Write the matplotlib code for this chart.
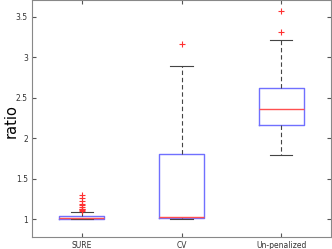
import numpy as np
import matplotlib
matplotlib.use("Agg")
import matplotlib.pyplot as plt

methods = ["SURE", "CV", "Un-penalized"]
q1 = [1.00, 1.01, 2.17]
med = [1.02, 1.03, 2.36]
q3 = [1.04, 1.80, 2.62]
wlo = [1.00, 1.00, 1.79]
whi = [1.09, 2.89, 3.22]
fliers = [
    [1.10, 1.11, 1.12, 1.13, 1.15, 1.17, 1.19, 1.22, 1.26, 1.30],
    [3.17],
    [3.31, 3.58],
]

stats = []
for i in range(len(methods)):
    stats.append(dict(label=methods[i], q1=q1[i], med=med[i], q3=q3[i],
                      whislo=wlo[i], whishi=whi[i], fliers=fliers[i]))

fig = plt.figure(figsize=(3.32, 2.49), dpi=100)
ax = fig.add_axes([32/332, 12/249, 299/332, 237/249])

ax.bxp(stats, widths=0.45, showfliers=True,
       boxprops=dict(color="#7070ff", linewidth=1.0),
       medianprops=dict(color="#ff5050", linewidth=1.0),
       whiskerprops=dict(color="#444444", linestyle=(0, (4, 2.5)), linewidth=0.8),
       capprops=dict(color="#444444", linewidth=0.8),
       flierprops=dict(marker="+", markeredgecolor="#ff3030", markersize=4, markeredgewidth=0.8))

ax.set_xlim(0.5, 3.5)
ax.set_ylim(0.78, 3.71)
ax.set_yticks([1, 1.5, 2, 2.5, 3, 3.5])
ax.set_yticklabels(["1", "1.5", "2", "2.5", "3", "3.5"])
ax.tick_params(direction="in", labelsize=5.5, length=3, colors="#555555",
               labelcolor="#333333", top=True, right=True, pad=3)
for s in ax.spines.values():
    s.set_color("#888888")
    s.set_linewidth(0.8)
ax.set_ylabel("ratio", fontsize=10.5)
ax.yaxis.set_label_coords(-0.045, 0.49)

fig.savefig("out.png", dpi=100)
